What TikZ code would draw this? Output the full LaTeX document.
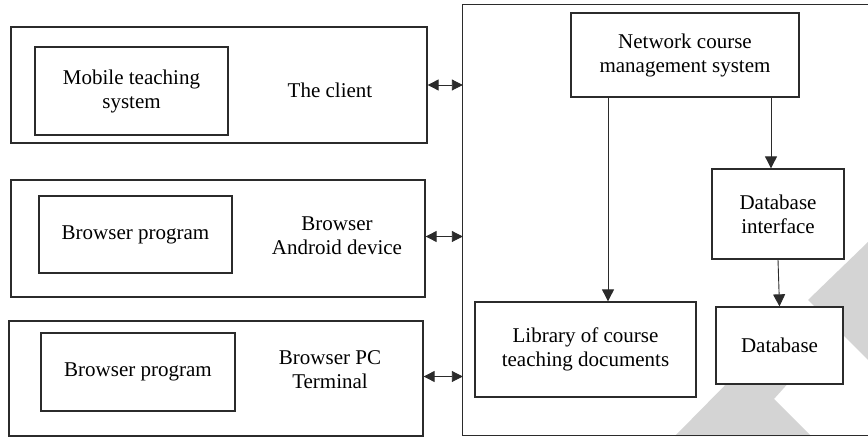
\documentclass[tikz,border=0pt]{standalone}
\usepackage{fontspec}
\setmainfont{Liberation Serif}
\usetikzlibrary{arrows.meta}
\definecolor{linec}{HTML}{2B2B2B}
\definecolor{wmark}{HTML}{D4D4D4}
\tikzset{
  box/.style={draw=linec, line width=1.3pt, fill=white, rectangle, inner sep=0pt, align=center},
  lbl/.style={inner sep=0pt, align=center},
  dbl/.style={line width=0.9pt, draw=linec, {Triangle[length=11pt,width=11pt]}-{Triangle[length=11pt,width=11pt]}},
  one/.style={line width=0.9pt, draw=linec, -{Triangle[length=12pt,width=12pt]}},
}
\begin{document}
\begin{tikzpicture}[x=1pt,y=-1pt, font=\fontsize{21}{24}\selectfont]
\useasboundingbox (0,0) rectangle (868,438);
\clip (0,0) rectangle (868,438);
% watermark shapes
\fill[wmark] (868,242) -- (808,300) -- (868,360) -- cycle;
\fill[wmark] (675,436) -- (740,370) -- (800,370) -- (774,399) -- (811,436) -- cycle;
% left outer boxes
\node[box, fill=none, minimum width=416pt, minimum height=116pt] (o1) at (219,85) {};
\node[box, minimum width=193pt, minimum height=88pt] (i1) at (131.5,91) {Mobile teaching\\system};
\node[lbl] (t1) at (330,90) {The client};
\node[box, fill=none, minimum width=414pt, minimum height=117pt] (o2) at (218,238.5) {};
\node[box, minimum width=193pt, minimum height=77pt] (i2) at (135.5,234.5) {Browser program};
\node[lbl] (t2) at (337,236) {Browser\\Android device};
\node[box, fill=none, minimum width=414pt, minimum height=115pt] (o3) at (216,378.5) {};
\node[box, minimum width=194pt, minimum height=78pt] (i3) at (138,372) {Browser program};
\node[lbl] (t3) at (330,370) {Browser PC\\Terminal};
% big right container
\node[inner sep=0pt, minimum width=405pt, minimum height=430pt] (big) at (665.5,220) {};
\draw[draw=linec, line width=1.3pt] (big.north east) -- (big.north west) -- (big.south west) -- (big.south east);
% inner boxes of the right container
\node[box, minimum width=228pt, minimum height=84pt] (ncms) at (685,55) {Network course\\management system};
\node[box, minimum width=221pt, minimum height=95pt] (lib) at (585.5,349.5) {Library of course\\teaching documents};
\node[box, minimum width=132pt, minimum height=90pt] (dbi) at (778,214) {Database\\interface};
\node[box, minimum width=127pt, minimum height=77pt] (db) at (779.5,345.5) {Database};
% connectors
\draw[dbl] (o1.east) -- (o1.east -| big.west);
\draw[dbl] ([yshift=2pt]o2.east) -- ([yshift=2pt]o2.east -| big.west);
\draw[dbl] ([yshift=2pt]o3.east) -- ([yshift=2pt]o3.east -| big.west);
\draw[one] (ncms.south -| 608,0) -- (lib.north -| 608,0);
\draw[one] (ncms.south -| 771,0) -- (dbi.north -| 771,0);
\draw[one] (dbi.south) -- (db.north);
\end{tikzpicture}
\end{document}
